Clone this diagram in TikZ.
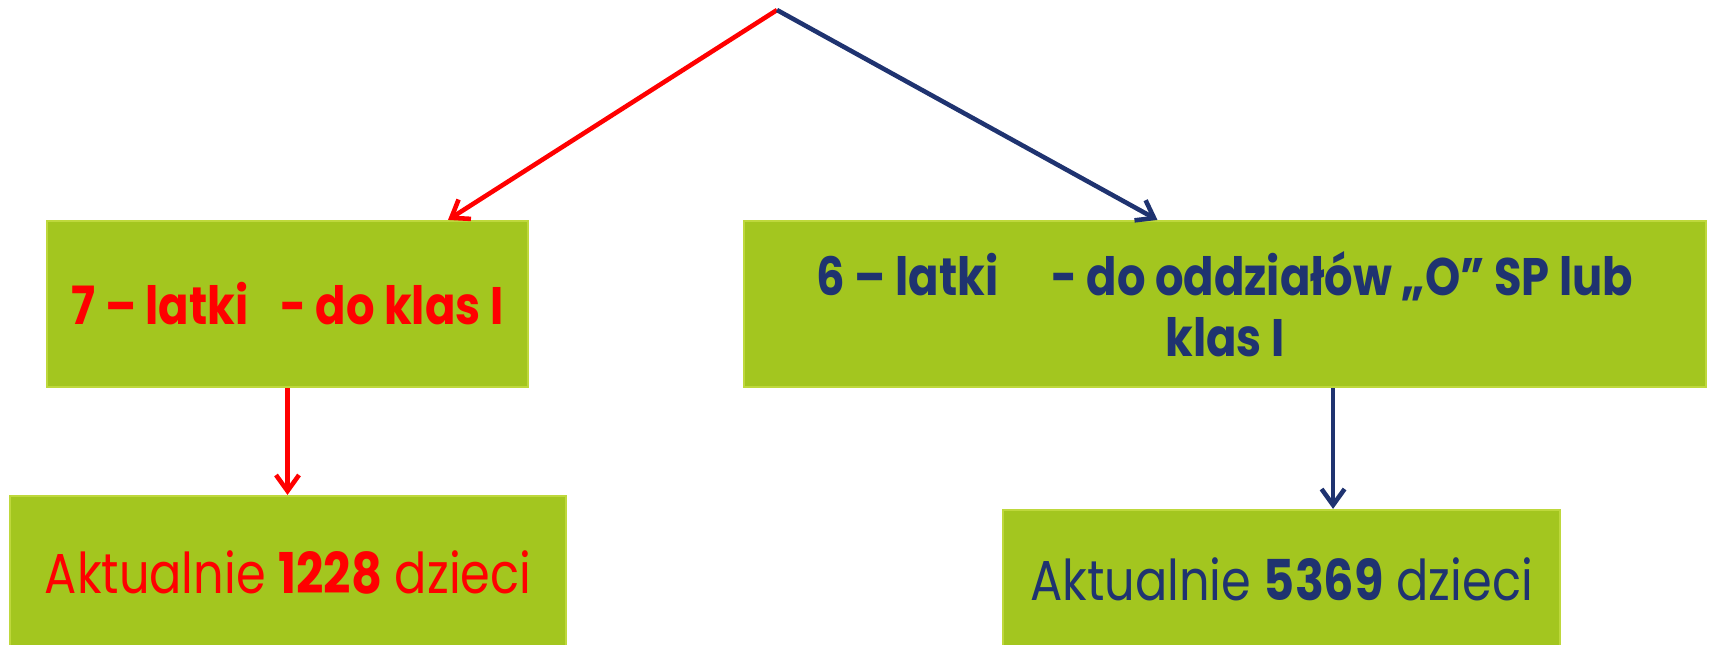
\documentclass[tikz,border=0pt]{standalone}
\usepackage{fontspec}
\setmainfont[FakeStretch=0.85]{Poppins}
\usetikzlibrary{calc}
\usetikzlibrary{arrows.meta}
\definecolor{boxgreen}{RGB}{163,198,31}
\definecolor{boxedge}{RGB}{190,216,60}
\definecolor{navy}{RGB}{31,51,112}
\definecolor{redtxt}{RGB}{255,0,0}

\begin{document}
\begin{tikzpicture}[x=0.01cm, y=-0.01cm,
  box/.style={fill=boxgreen, draw=boxedge, line width=0.6pt, inner sep=0pt, align=center},
  link/.style={line width=1.3pt, -{Straight Barb[length=1.6mm, width=2.3mm, line width=1.3pt]}}]
\useasboundingbox (0,0) rectangle (1710,644);
\coordinate (top) at (777,10);
\node[box, minimum width=4.81cm, minimum height=1.66cm, text=redtxt, font=\fontsize{15}{18}\selectfont\bfseries]
  (klas7) at (287.5,304) {7 – latki\hspace{0.6em}- do klas I};
\node[box, minimum width=9.62cm, minimum height=1.66cm, text=navy, font=\fontsize{15}{17.5}\selectfont\bfseries]
  (klas6) at (1225,304) {6 – latki\hspace{1em}- do oddziałów „O” SP lub\\klas I};
\node[box, minimum width=5.56cm, minimum height=1.52cm, text=redtxt, font=\fontsize{16}{18}\selectfont]
  (ile7) at (288,572) {Aktualnie \textbf{1228} dzieci};
\node[box, minimum width=5.57cm, minimum height=1.38cm, text=navy, font=\fontsize{16}{18}\selectfont]
  (ile6) at (1281.5,579) {Aktualnie \textbf{5369} dzieci};
% arrows from the top
\draw[link, redtxt] (top) -- ($(klas7.north west)!0.832!(klas7.north east)$);
\draw[link, navy] (top) -- ($(klas6.north west)!0.43!(klas6.north east)$);
% arrows down
\draw[link, redtxt] (klas7.south) -- (klas7.south |- ile7.north);
\coordinate (down6) at ($(klas6.south west)!0.612!(klas6.south east)$);
\draw[link, navy] (down6) -- (down6 |- ile6.north);
\end{tikzpicture}
\end{document}
